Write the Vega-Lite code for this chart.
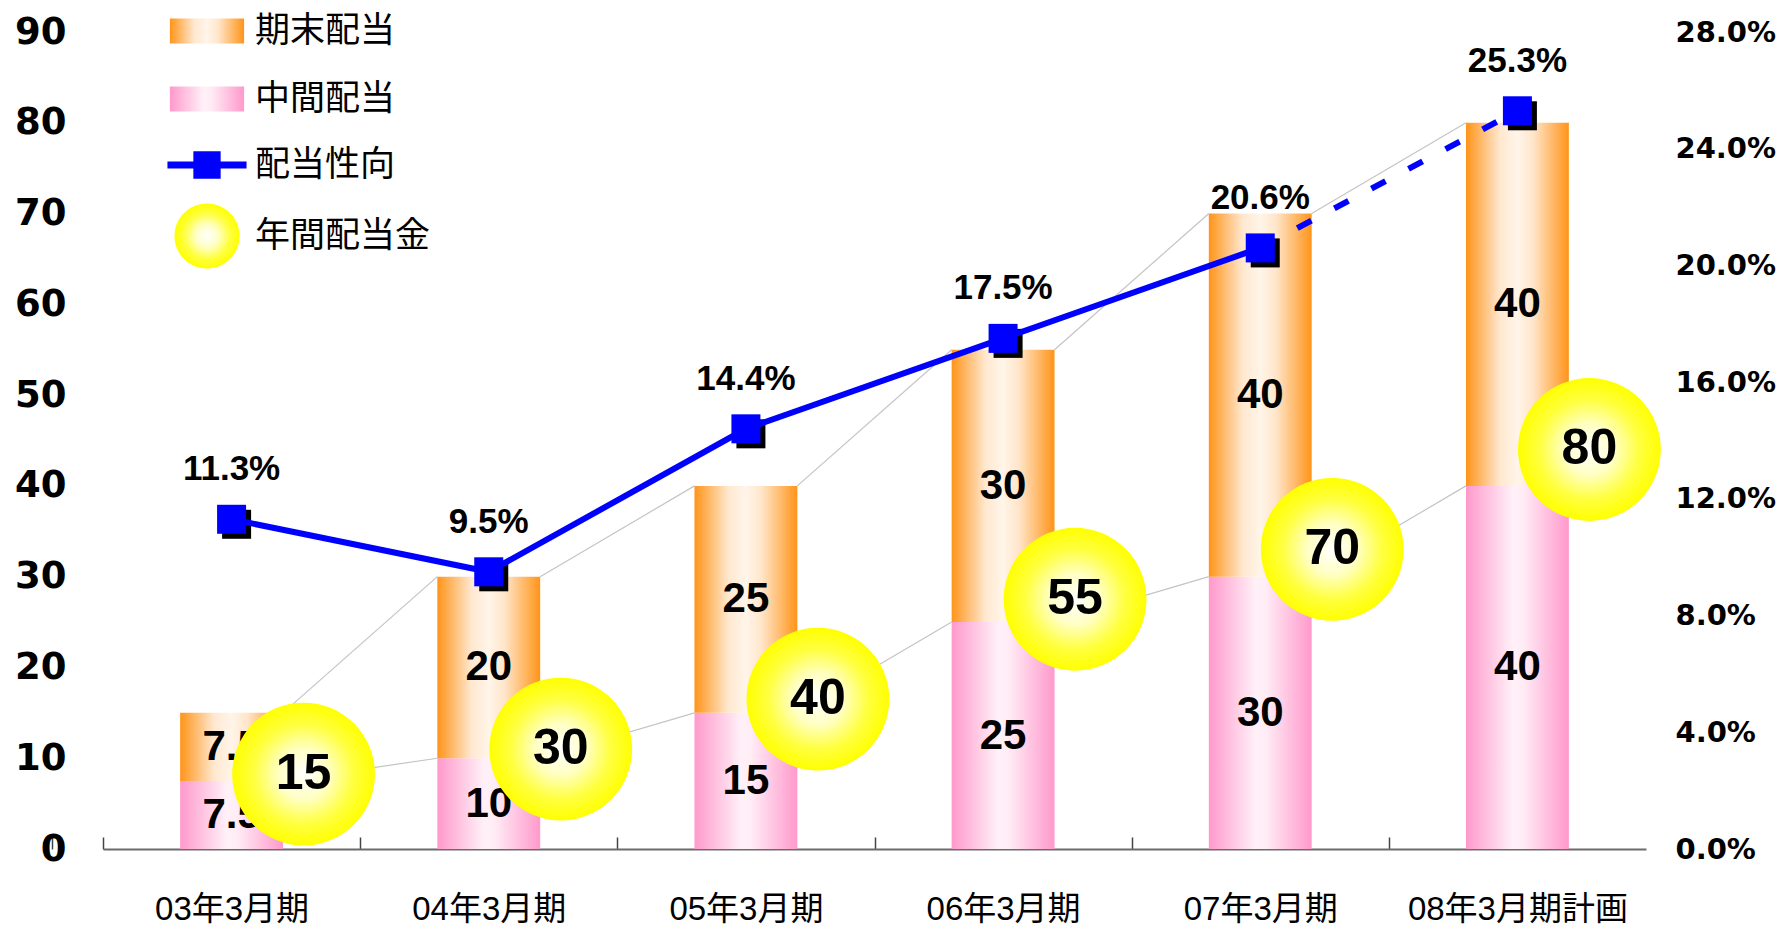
{
  "$schema": "https://vega.github.io/schema/vega-lite/v6.json",
  "width": 1543,
  "height": 817,
  "autosize": {"type": "none"},
  "padding": {"left": 103, "top": 32, "right": 131, "bottom": 78},
  "background": "#ffffff",
  "config": {"view": {"stroke": null}, "axis": {"grid": false},
    "legend": {"orient": "none", "title": null, "padding": 0, "symbolSize": 4900, "symbolStrokeWidth": 0, "symbolOpacity": 1,
      "labelFont": "Noto Sans CJK JP", "labelFontSize": 35, "labelColor": "#000000", "labelOffset": 13, "labelLimit": 400}},
  "datasets": {
    "d": [
      {"period": "03年3月期", "中間配当": 7.5, "期末配当": 7.5, "年間配当金": 15, "配当性向": 0.113},
      {"period": "04年3月期", "中間配当": 10, "期末配当": 20, "年間配当金": 30, "配当性向": 0.095},
      {"period": "05年3月期", "中間配当": 15, "期末配当": 25, "年間配当金": 40, "配当性向": 0.144},
      {"period": "06年3月期", "中間配当": 25, "期末配当": 30, "年間配当金": 55, "配当性向": 0.175},
      {"period": "07年3月期", "中間配当": 30, "期末配当": 40, "年間配当金": 70, "配当性向": 0.206},
      {"period": "08年3月期計画", "中間配当": 40, "期末配当": 40, "年間配当金": 80, "配当性向": 0.253}
    ]
  },
  "data": {"name": "d"},
  "encoding": {
    "x": {"field": "period", "type": "nominal", "sort": null,
      "scale": {"paddingInner": 0.6, "paddingOuter": 0.3},
      "axis": {"title": null, "labelAngle": 0, "labelFont": "Liberation Sans, Noto Sans CJK JP", "labelFontSize": 33, "labelColor": "#000000", "labelLimit": 400,
        "domainColor": "#6b6b6b", "domainWidth": 2, "ticks": true, "tickColor": "#444444", "tickSize": -12, "tickWidth": 1.5, "labelPadding": 56, "grid": false,
        "tickOffset": -128.58, "labelOffset": 128.58, "tickExtra": true}}
  },
  "layer": [
    {
      "mark": {"type": "bar", "fill": {"gradient": "linear", "x1": 0, "y1": 0, "x2": 1, "y2": 0,
        "stops": [{"offset": 0, "color": "#FF99CC"}, {"offset": 0.45, "color": "#FFF0F7"}, {"offset": 0.55, "color": "#FFEDF6"}, {"offset": 1, "color": "#FF99CC"}]}, "stroke": null},
      "encoding": {
        "y": {"field": "中間配当", "type": "quantitative", "scale": {"domain": [0, 90], "nice": false},
          "axis": {"orient": "left", "title": null, "values": [0, 10, 20, 30, 40, 50, 60, 70, 80, 90], "domain": false, "ticks": false, "grid": false,
            "labelFont": "DejaVu Sans", "labelFontWeight": "bold", "labelFontSize": 37, "labelColor": "#000000", "labelPadding": 37, "labelFlush": false}}
      }
    },
    {
      "mark": {"type": "bar", "fill": {"gradient": "linear", "x1": 0, "y1": 0, "x2": 1, "y2": 0,
        "stops": [{"offset": 0, "color": "#FF9419"}, {"offset": 0.33, "color": "#FFE8D0"}, {"offset": 0.5, "color": "#FFF5E9"}, {"offset": 0.65, "color": "#FFE6CB"}, {"offset": 1, "color": "#FF9419"}]}, "stroke": null},
      "encoding": {
        "y": {"field": "年間配当金", "type": "quantitative", "scale": {"domain": [0, 90], "nice": false}, "axis": null},
        "y2": {"field": "中間配当"}
      }
    },
    {
      "transform": [
        {"window": [{"op": "lead", "field": "年間配当金", "as": "next_total"}, {"op": "lead", "field": "period", "as": "next_period"}],
         "sort": [{"field": "period", "order": "ascending"}]},
        {"filter": "isValid(datum.next_period)"}
      ],
      "mark": {"type": "rule", "color": "#C4C4C4", "strokeWidth": 1.2, "xOffset": 51.4, "x2Offset": -51.4},
      "encoding": {
        "x2": {"field": "next_period"},
        "y": {"field": "年間配当金", "type": "quantitative", "scale": {"domain": [0, 90], "nice": false}, "axis": null},
        "y2": {"field": "next_total"}
      }
    },
    {
      "transform": [
        {"window": [{"op": "lead", "field": "中間配当", "as": "next_interim"}, {"op": "lead", "field": "period", "as": "next_period"}],
         "sort": [{"field": "period", "order": "ascending"}]},
        {"filter": "isValid(datum.next_period)"}
      ],
      "mark": {"type": "rule", "color": "#C4C4C4", "strokeWidth": 1.2, "xOffset": 51.4, "x2Offset": -51.4},
      "encoding": {
        "x2": {"field": "next_period"},
        "y": {"field": "中間配当", "type": "quantitative", "scale": {"domain": [0, 90], "nice": false}, "axis": null},
        "y2": {"field": "next_interim"}
      }
    },
    {
      "mark": {"type": "text", "font": "Liberation Sans", "fontWeight": "bold", "fontSize": 42, "color": "#000000", "baseline": "middle"},
      "encoding": {
        "y": {"field": "中間配当", "type": "quantitative", "scale": {"domain": [0, 180], "nice": false}, "axis": null},
        "text": {"field": "中間配当", "type": "nominal"}
      }
    },
    {
      "transform": [{"fold": ["中間配当", "年間配当金"], "as": ["k", "v"]}],
      "mark": {"type": "text", "font": "Liberation Sans", "fontWeight": "bold", "fontSize": 42, "color": "#000000", "baseline": "middle"},
      "encoding": {
        "y": {"aggregate": "sum", "field": "v", "type": "quantitative", "scale": {"domain": [0, 180], "nice": false}, "axis": null},
        "text": {"field": "期末配当", "type": "nominal"}
      }
    },
    {
      "mark": {"type": "point", "shape": "circle", "filled": true, "size": 20400, "opacity": 1, "strokeWidth": 0, "xOffset": 72,
        "fill": {"gradient": "radial", "x1": 0.5, "y1": 0.5, "r1": 0, "x2": 0.5, "y2": 0.5, "r2": 0.5,
          "stops": [{"offset": 0, "color": "#FFFFFF"}, {"offset": 0.35, "color": "#FFFFC4"}, {"offset": 0.7, "color": "#FFFF40"}, {"offset": 1, "color": "#FFFF00"}]}},
      "encoding": {
        "y": {"field": "中間配当", "type": "quantitative", "scale": {"domain": [0, 81.8], "nice": false}, "axis": null}
      }
    },
    {
      "mark": {"type": "text", "font": "Liberation Sans", "fontWeight": "bold", "fontSize": 50, "color": "#000000", "baseline": "middle", "xOffset": 72},
      "encoding": {
        "y": {"field": "中間配当", "type": "quantitative", "scale": {"domain": [0, 81.8], "nice": false}, "axis": null},
        "text": {"field": "年間配当金", "type": "nominal"}
      }
    },
    {
      "mark": {"type": "point", "shape": "square", "filled": true, "size": 841, "opacity": 1, "color": "#000000", "xOffset": 5, "yOffset": 5},
      "encoding": {
        "y": {"field": "配当性向", "type": "quantitative", "scale": {"domain": [0, 0.28], "nice": false},
          "axis": {"orient": "right", "title": null, "values": [0, 0.04, 0.08, 0.12, 0.16, 0.2, 0.24, 0.28], "format": ".1%", "domain": false, "ticks": false, "grid": false,
            "labelFont": "DejaVu Sans", "labelFontWeight": "bold", "labelFontSize": 29, "labelColor": "#000000", "labelPadding": 29, "labelFlush": false}}
      }
    },
    {
      "transform": [{"filter": {"field": "period", "oneOf": ["03年3月期", "04年3月期", "05年3月期", "06年3月期", "07年3月期"]}}],
      "mark": {"type": "line", "color": "#0000FF", "strokeWidth": 6},
      "encoding": {
        "y": {"field": "配当性向", "type": "quantitative", "scale": {"domain": [0, 0.28], "nice": false}, "axis": null}
      }
    },
    {
      "transform": [{"filter": {"field": "period", "oneOf": ["07年3月期", "08年3月期計画"]}}],
      "mark": {"type": "line", "color": "#0000FF", "strokeWidth": 6, "strokeDash": [16, 26]},
      "encoding": {
        "y": {"field": "配当性向", "type": "quantitative", "scale": {"domain": [0, 0.28], "nice": false}, "axis": null}
      }
    },
    {
      "mark": {"type": "point", "shape": "square", "filled": true, "size": 841, "opacity": 1, "color": "#0000FF"},
      "encoding": {
        "y": {"field": "配当性向", "type": "quantitative", "scale": {"domain": [0, 0.28], "nice": false}, "axis": null}
      }
    },
    {
      "mark": {"type": "text", "font": "Liberation Sans", "fontWeight": "bold", "fontSize": 35, "color": "#000000", "baseline": "middle", "yOffset": -50},
      "encoding": {
        "y": {"field": "配当性向", "type": "quantitative", "scale": {"domain": [0, 0.28], "nice": false}, "axis": null},
        "text": {"field": "配当性向", "type": "quantitative", "format": ".1%"}
      }
    },
    {
      "transform": [{"filter": "false"}],
      "mark": {"type": "point", "filled": true, "fill": {"gradient": "linear", "x1": 0, "y1": 0, "x2": 1, "y2": 0, "stops": [{"offset": 0, "color": "#FF9419"}, {"offset": 0.33, "color": "#FFE8D0"}, {"offset": 0.5, "color": "#FFF5E9"}, {"offset": 0.65, "color": "#FFE6CB"}, {"offset": 1, "color": "#FF9419"}]}},
      "encoding": {
        "stroke": {"datum": "期末配当", "type": "nominal", "scale": {"domain": ["期末配当"], "range": ["#FF9419"]},
          "legend": {"legendX": 69, "legendY": -36, "symbolType": "M-1.06,-0.36H1.06V0.36H-1.06Z"}}
      }
    },
    {
      "transform": [{"filter": "false"}],
      "mark": {"type": "point", "filled": true, "fill": {"gradient": "linear", "x1": 0, "y1": 0, "x2": 1, "y2": 0, "stops": [{"offset": 0, "color": "#FF99CC"}, {"offset": 0.45, "color": "#FFF0F7"}, {"offset": 0.55, "color": "#FFEDF6"}, {"offset": 1, "color": "#FF99CC"}]}},
      "encoding": {
        "shape": {"datum": "中間配当", "type": "nominal", "scale": {"domain": ["中間配当"], "range": ["M-1.06,-0.36H1.06V0.36H-1.06Z"]},
          "legend": {"legendX": 69, "legendY": 32}}
      }
    },
    {
      "transform": [{"filter": "false"}],
      "mark": {"type": "point", "filled": true},
      "encoding": {
        "color": {"datum": "配当性向", "type": "nominal", "scale": {"domain": ["配当性向"], "range": ["#0000FF"]},
          "legend": {"legendX": 69, "legendY": 98, "symbolType": "M-1.13,-0.1H1.13V0.1H-1.13Z M-0.39,-0.39H0.39V0.39H-0.39Z"}}
      }
    },
    {
      "transform": [{"filter": "false"}],
      "mark": {"type": "point", "filled": true, "fill": {"gradient": "radial", "x1": 0.5, "y1": 0.5, "r1": 0, "x2": 0.5, "y2": 0.5, "r2": 0.5, "stops": [{"offset": 0, "color": "#FFFFFF"}, {"offset": 0.35, "color": "#FFFFC4"}, {"offset": 0.7, "color": "#FFFF40"}, {"offset": 1, "color": "#FFFF00"}]}},
      "encoding": {
        "strokeDash": {"datum": "年間配当金", "type": "nominal", "scale": {"domain": ["年間配当金"], "range": [[1, 0]]},
          "legend": {"legendX": 69, "legendY": 169, "symbolType": "M-0.93,0A0.93,0.93 0 1,0 0.93,0A0.93,0.93 0 1,0 -0.93,0Z"}}
      }
    }
  ],
  "resolve": {"scale": {"y": "independent"}}
}
